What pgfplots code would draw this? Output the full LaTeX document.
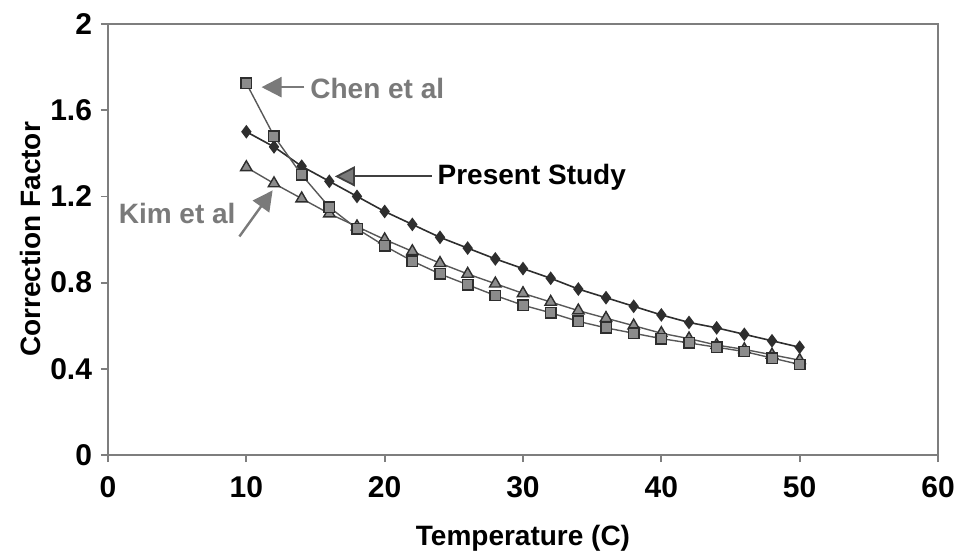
\documentclass[border=0pt]{standalone}
\usepackage{pgfplots}
\pgfplotsset{compat=1.18}
\usepackage{fontspec}
\setmainfont{Liberation Sans}
\usetikzlibrary{arrows.meta}

\definecolor{axisgray}{HTML}{7E7E7E}
\definecolor{markdark}{HTML}{2E2E2E}
\definecolor{markgray}{HTML}{8C8C8C}
\definecolor{labelgray}{HTML}{7A7A7A}

\newcommand{\lblfont}{\fontsize{14bp}{16bp}\selectfont\bfseries}

\begin{document}
\begin{tikzpicture}[font=\bfseries]
\begin{axis}[
  scale only axis,
  width=415bp, height=215.5bp,
  xmin=0, xmax=60, ymin=0, ymax=2,
  xtick={0,10,...,60},
  ytick={0,0.4,0.8,1.2,1.6,2},
  yticklabels={0,0.4,0.8,1.2,1.6,2},
  /pgf/number format/assume math mode=true,
  tick label style={font=\fontsize{15bp}{17bp}\selectfont\bfseries, text=black},
  xticklabel style={yshift=-4bp},
  yticklabel style={xshift=-1bp},
  tick align=outside,
  major tick length=3.5bp,
  xtick pos=bottom, ytick pos=left,
  axis line style={axisgray, line width=1.2bp},
  every tick/.style={axisgray, line width=0.9bp},
  xlabel={Temperature (C)},
  ylabel={Correction Factor},
  label style={font=\lblfont},
  xlabel style={at={(axis description cs:0.5,0)}, anchor=center, yshift=-41.5bp},
  ylabel style={at={(axis description cs:0,0.5)}, anchor=center, yshift=39bp},
  clip=false,
]
% Present Study
\addplot[markdark, line width=0.8bp, mark=diamond*, mark size=2.8bp,
  mark options={fill=markdark, draw=markdark}] coordinates {
  (10,1.50) (12,1.43) (14,1.34) (16,1.27) (18,1.20) (20,1.13) (22,1.07)
  (24,1.01) (26,0.96) (28,0.91) (30,0.865) (32,0.82) (34,0.77) (36,0.73)
  (38,0.69) (40,0.65) (42,0.615) (44,0.59) (46,0.56) (48,0.53) (50,0.50)};
% Kim et al
\addplot[markdark!80, line width=0.7bp, mark=triangle*, mark size=3.3bp,
  mark options={fill=markgray, draw=markdark}] coordinates {
  (10,1.335) (12,1.26) (14,1.19) (16,1.12) (18,1.06) (20,1.00) (22,0.945)
  (24,0.89) (26,0.84) (28,0.795) (30,0.75) (32,0.71) (34,0.67) (36,0.635)
  (38,0.60) (40,0.565) (42,0.54) (44,0.51) (46,0.49) (48,0.465) (50,0.44)};
% Chen et al
\addplot[markdark!80, line width=0.7bp, mark=square*, mark size=2.6bp,
  mark options={fill=markgray, draw=markdark}] coordinates {
  (10,1.725) (12,1.48) (14,1.30) (16,1.15) (18,1.05) (20,0.97) (22,0.90)
  (24,0.84) (26,0.79) (28,0.74) (30,0.695) (32,0.66) (34,0.62) (36,0.59)
  (38,0.565) (40,0.54) (42,0.52) (44,0.50) (46,0.48) (48,0.45) (50,0.42)};

% series annotations
\draw[labelgray, line width=1.2bp, -{Triangle[length=10bp,width=10bp]}]
  (axis cs:14.2,1.707) -- (axis cs:11.1,1.707);
\node[anchor=west, text=labelgray, inner sep=0pt, font=\lblfont]
  at (axis cs:14.6,1.70) {Chen et al};

\draw[black!75, line width=0.9bp, -{Triangle[length=10bp,width=10bp,fill=labelgray]}]
  (axis cs:23.4,1.293) -- (axis cs:16.4,1.293);
\node[anchor=west, text=black, inner sep=0pt, font=\lblfont]
  at (axis cs:23.8,1.29) {Present Study};

\draw[labelgray, line width=1.2bp, -{Triangle[length=10bp,width=10bp]}]
  (axis cs:9.5,1.014) -- (axis cs:11.9,1.228);
\node[anchor=center, text=labelgray, inner sep=0pt, font=\lblfont]
  at (axis cs:5.0,1.12) {Kim et al};

\coordinate (sw) at (axis cs:0,0);
\coordinate (ne) at (axis cs:60,2);
\end{axis}
\pgfresetboundingbox
\path ([shift={(-54bp,-49bp)}]sw) rectangle ([shift={(8bp,12bp)}]ne);
\end{tikzpicture}
\end{document}
